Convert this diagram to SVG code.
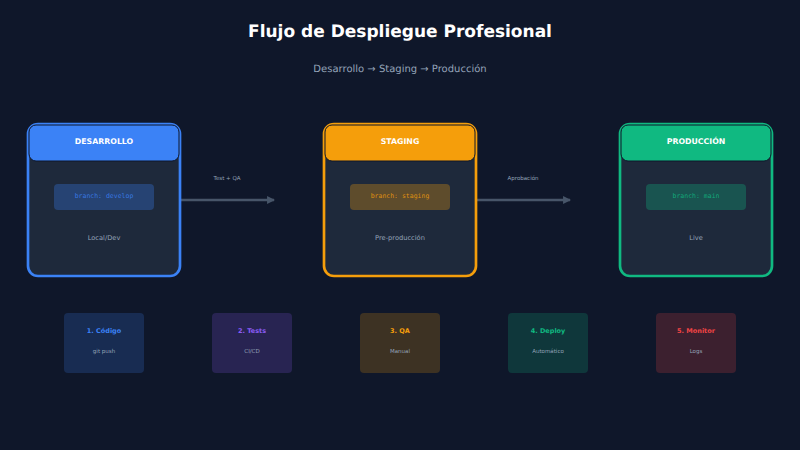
<svg xmlns="http://www.w3.org/2000/svg" width="800" height="450" viewBox="0 0 800 450">
<style>
text{font-family:"DejaVu Sans",sans-serif;text-anchor:middle;text-rendering:geometricPrecision}
.card{fill:#1e293b;stroke-width:2.67}
.head{stroke:#0f172a;stroke-width:1}
.ht{font-size:7.8px;font-weight:700;fill:#fff}
.br{font-family:"DejaVu Sans Mono",monospace;font-size:6.5px;fill-opacity:.85}
.sub{font-size:6.67px;fill:#94a3b8}
.lab{font-size:5.5px;fill:#94a3b8}
.st{font-size:6.5px;font-weight:700}
.sd{font-size:5.5px;fill:#94a3b8}
.conn{stroke:#475569;stroke-width:2.67;fill:none;marker-end:url(#arr)}
</style>
<defs><marker id="arr" markerWidth="3" markerHeight="3" refX="2.6" refY="1.5" orient="auto" markerUnits="strokeWidth"><path d="M0,0L3,1.5L0,3Z" fill="#475569"/></marker></defs>
<rect width="800" height="450" fill="#0f172a"/>
<text x="400" y="37" font-size="17" font-weight="700" fill="#fff">Flujo de Despliegue Profesional</text>
<text x="400" y="72" font-size="10" fill="#94a3b8">Desarrollo → Staging → Producción</text>
<g id="connectors">
<line class="conn" x1="180" y1="200" x2="274" y2="200"/>
<line class="conn" x1="476" y1="200" x2="570" y2="200"/>
<text class="lab" x="227" y="180">Test + QA</text>
<text class="lab" x="523" y="180">Aprobación</text>
</g>
<g id="desarrollo">
<rect class="card" x="28" y="124" width="152" height="152" rx="10" stroke="#3b82f6"/>
<rect class="head" x="29" y="125" width="150" height="36" rx="7" fill="#3b82f6"/>
<text class="ht" x="104" y="143.5">DESARROLLO</text>
<rect x="54" y="184" width="100" height="26" rx="4" fill="#3b82f6" fill-opacity=".3"/>
<text class="br" x="104" y="198" fill="#3b82f6">branch: develop</text>
<text class="sub" x="104" y="240">Local/Dev</text>
</g>
<g id="staging">
<rect class="card" x="324" y="124" width="152" height="152" rx="10" stroke="#f59e0b"/>
<rect class="head" x="325" y="125" width="150" height="36" rx="7" fill="#f59e0b"/>
<text class="ht" x="400" y="143.5">STAGING</text>
<rect x="350" y="184" width="100" height="26" rx="4" fill="#f59e0b" fill-opacity=".3"/>
<text class="br" x="400" y="198" fill="#f59e0b">branch: staging</text>
<text class="sub" x="400" y="240">Pre-producción</text>
</g>
<g id="produccion">
<rect class="card" x="620" y="124" width="152" height="152" rx="10" stroke="#10b981"/>
<rect class="head" x="621" y="125" width="150" height="36" rx="7" fill="#10b981"/>
<text class="ht" x="696" y="143.5">PRODUCCIÓN</text>
<rect x="646" y="184" width="100" height="26" rx="4" fill="#10b981" fill-opacity=".3"/>
<text class="br" x="696" y="198" fill="#10b981">branch: main</text>
<text class="sub" x="696" y="240">Live</text>
</g>
<g id="step1"><rect x="64" y="313" width="80" height="60" rx="4" fill="#3b82f6" fill-opacity=".2"/><text class="st" x="104" y="333" fill="#3b82f6">1. Código</text><text class="sd" x="104" y="353">git push</text></g>
<g id="step2"><rect x="212" y="313" width="80" height="60" rx="4" fill="#8b5cf6" fill-opacity=".2"/><text class="st" x="252" y="333" fill="#8b5cf6">2. Tests</text><text class="sd" x="252" y="353">CI/CD</text></g>
<g id="step3"><rect x="360" y="313" width="80" height="60" rx="4" fill="#f59e0b" fill-opacity=".2"/><text class="st" x="400" y="333" fill="#f59e0b">3. QA</text><text class="sd" x="400" y="353">Manual</text></g>
<g id="step4"><rect x="508" y="313" width="80" height="60" rx="4" fill="#10b981" fill-opacity=".2"/><text class="st" x="548" y="333" fill="#10b981">4. Deploy</text><text class="sd" x="548" y="353">Automático</text></g>
<g id="step5"><rect x="656" y="313" width="80" height="60" rx="4" fill="#ef4444" fill-opacity=".2"/><text class="st" x="696" y="333" fill="#ef4444">5. Monitor</text><text class="sd" x="696" y="353">Logs</text></g>
</svg>
